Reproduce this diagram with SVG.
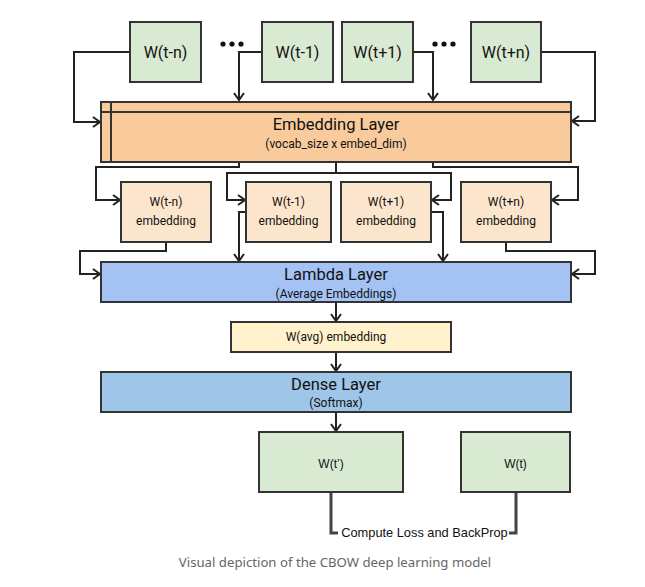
<svg xmlns="http://www.w3.org/2000/svg" width="645" height="587" viewBox="0 0 645 587">
<defs>
<style>
.box{stroke:#333;stroke-width:2}
.g{fill:#d9ead3}
.emb{fill:#f9cb9c}
.en{fill:#fce5cd}
.lam{fill:#a4c2f4}
.avg{fill:#fff2cc}
.den{fill:#9fc5e8}
text{font-family:Roboto,"Liberation Sans",sans-serif;fill:#111;text-anchor:middle}
.t16{font-size:16px}
.tm{font-size:16.5px}
.t11{font-size:12px}
.t12{font-size:12px}
.ar{font-family:"Liberation Sans",Arial,sans-serif;font-size:12px}
.c{fill:none;stroke:#222;stroke-width:2;marker-end:url(#ah)}
.n{fill:none;stroke:#222;stroke-width:2}
.loss{fill:none;stroke:#444;stroke-width:3}
</style>
<marker id="ah" markerUnits="userSpaceOnUse" markerWidth="12" markerHeight="12" refX="9" refY="6" orient="auto">
<path d="M2,1 L9,6 L2,11" fill="none" stroke="#222" stroke-width="2"/>
</marker>
</defs>
<rect width="645" height="587" fill="#fff"/>
<g id="connectors">
<path class="c" d="M130,52 H74 V122 H100"/>
<path class="c" d="M262,52 H239 V100"/>
<path class="c" d="M413,52 H433 V100"/>
<path class="c" d="M541,52 H595 V121 H572"/>
<path class="c" d="M239,162 V167 H96 V200 H120"/>
<path class="n" d="M336,162 V173"/>
<path class="c" d="M336,173 H227 V200 H245"/>
<path class="c" d="M336,173 H451 V200 H432"/>
<path class="c" d="M433,162 V167 H578 V200 H552"/>
<path class="c" d="M166,242 V251 H80 V274 H100"/>
<path class="c" d="M246,212 H239 V261"/>
<path class="c" d="M431,212 H443 V261"/>
<path class="c" d="M506,242 V251 H595 V274 H572"/>
<path class="c" d="M336,302 V321"/>
<path class="c" d="M336,352 V371"/>
<path class="c" d="M336,412 V431"/>
<path class="loss" d="M331,492 V533 H338"/>
<path class="loss" d="M509,533 H516 V492"/>
</g>
<g id="dots1" fill="#111"><circle cx="223" cy="44" r="2.6"/><circle cx="232" cy="44" r="2.6"/><circle cx="241" cy="44" r="2.6"/></g>
<g id="dots2" fill="#111"><circle cx="435" cy="44" r="2.6"/><circle cx="444" cy="44" r="2.6"/><circle cx="453" cy="44" r="2.6"/></g>
<g id="w_t_minus_n"><rect class="box g" x="130" y="22" width="71" height="60"/><text class="t16" x="165.5" y="58">W(t-n)</text></g>
<g id="w_t_minus_1"><rect class="box g" x="262" y="22" width="71" height="60"/><text class="t16" x="297.5" y="58">W(t-1)</text></g>
<g id="w_t_plus_1"><rect class="box g" x="342" y="22" width="71" height="60"/><text class="t16" x="377.5" y="58">W(t+1)</text></g>
<g id="w_t_plus_n"><rect class="box g" x="471" y="22" width="70" height="60"/><text class="t16" x="506" y="58">W(t+n)</text></g>
<g id="embedding_layer">
<rect class="box emb" x="101" y="102" width="470" height="60"/>
<path d="M101,112 H571 M111,102 V162" stroke="#333" stroke-width="2"/>
<text class="tm" x="336" y="130">Embedding Layer</text>
<text class="t11" x="336" y="148">(vocab_size x embed_dim)</text>
</g>
<g id="emb_t_minus_n"><rect class="box en" x="121" y="182" width="90" height="60"/><text class="t12" x="166" y="206">W(t-n)</text><text class="t12" x="166" y="225">embedding</text></g>
<g id="emb_t_minus_1"><rect class="box en" x="246" y="182" width="85" height="60"/><text class="t12" x="288.5" y="206">W(t-1)</text><text class="t12" x="288.5" y="225">embedding</text></g>
<g id="emb_t_plus_1"><rect class="box en" x="341" y="182" width="90" height="60"/><text class="t12" x="386" y="206">W(t+1)</text><text class="t12" x="386" y="225">embedding</text></g>
<g id="emb_t_plus_n"><rect class="box en" x="461" y="182" width="90" height="60"/><text class="t12" x="506" y="206">W(t+n)</text><text class="t12" x="506" y="225">embedding</text></g>
<g id="lambda_layer"><rect class="box lam" x="101" y="262" width="470" height="40"/><text class="tm" x="336" y="280">Lambda Layer</text><text class="t11" x="336" y="298">(Average Embeddings)</text></g>
<g id="avg_embedding"><rect class="box avg" x="231" y="322" width="220" height="30"/><text class="t12" x="336" y="341">W(avg) embedding</text></g>
<g id="dense_layer"><rect class="box den" x="101" y="372" width="470" height="40"/><text class="tm" x="336" y="390">Dense Layer</text><text class="t11" x="336" y="407">(Softmax)</text></g>
<g id="w_t_pred"><rect class="box g" x="259" y="432" width="144" height="60"/><text class="ar" x="331" y="468">W(t’)</text></g>
<g id="w_t"><rect class="box g" x="461" y="432" width="109" height="60"/><text class="ar" x="515.5" y="468">W(t)</text></g>
<g id="loss_label"><text class="ar" x="424.5" y="537" style="font-size:12.8px">Compute Loss and BackProp</text></g>
<text x="335" y="567" style="font-family:'Noto Sans','Open Sans',sans-serif;font-size:13.2px;fill:#666">Visual depiction of the CBOW deep learning model</text>
</svg>
